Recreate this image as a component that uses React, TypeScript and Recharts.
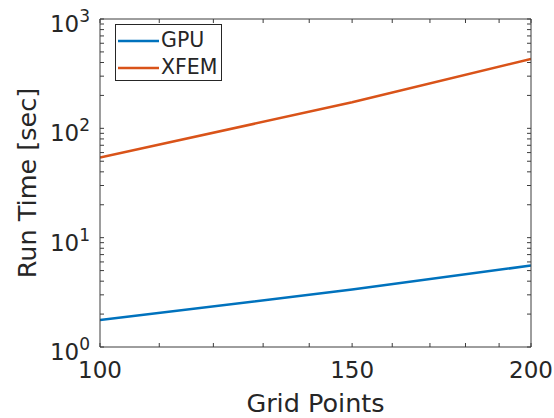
import React from 'react';
import { LineChart, Line, XAxis, YAxis } from 'recharts';

// grid sizes and measured run times (seconds)
const gridPoints = [100, 150, 200];
const gpuTime = [1.77, 3.35, 5.56];
const xfemTime = [54, 173, 432];

const xMajorTicks = [100, 150, 200];
const xMinorTicks = [110, 120, 130, 140, 160, 170, 180, 190];
const yMajorTicks = [1, 10, 100, 1000];

const series = [
  { key: 'gpu', name: 'GPU', color: '#0072BD' },
  { key: 'xfem', name: 'XFEM', color: '#D95319' },
];

const data = gridPoints.map((g, i) => ({ grid: g, gpu: gpuTime[i], xfem: xfemTime[i] }));

// log-decade minor ticks 1..9 for every decade
const yAllTicks: number[] = [];
for (let d = 0; d < 3; d++) {
  for (let m = 1; m < 10; m++) yAllTicks.push(m * Math.pow(10, d));
}
yAllTicks.push(1000);
const xAllTicks = [...xMajorTicks, ...xMinorTicks].sort((a, b) => a - b);

const FONT = '"DejaVu Sans", sans-serif';
const INK = '#262626';
const AXIS = '#3c3c3c';
const TICK_LEN = 4;

const BottomTick = (props: any) => {
  const { x, y, payload } = props;
  const major = xMajorTicks.includes(payload.value);
  return (
    <g>
      <line x1={x} x2={x} y1={y} y2={y - TICK_LEN} stroke={AXIS} />
      {major && (
        <text x={x} y={y + 31} textAnchor="middle" fontFamily={FONT} fontSize={23} fill={INK}>
          {payload.value}
        </text>
      )}
    </g>
  );
};

const TopTick = (props: any) => {
  const { x, y } = props;
  return <line x1={x} x2={x} y1={y} y2={y + TICK_LEN} stroke={AXIS} />;
};

const LeftTick = (props: any) => {
  const { x, y, payload } = props;
  const v = payload.value;
  const major = yMajorTicks.includes(v);
  const exp = Math.round(Math.log10(v));
  return (
    <g>
      <line x1={x} x2={x + TICK_LEN} y1={y} y2={y} stroke={AXIS} />
      {major && (
        <text x={x - 10} y={y + 13} textAnchor="end" fontFamily={FONT} fill={INK}>
          <tspan fontSize={23}>10</tspan>
          <tspan fontSize={17} dy={-10}>{exp}</tspan>
        </text>
      )}
    </g>
  );
};

const RightTick = (props: any) => {
  const { x, y } = props;
  return <line x1={x} x2={x - TICK_LEN} y1={y} y2={y} stroke={AXIS} />;
};

// legend box sitting over the upper-left corner of the plot
const LegendBox = () => (
  <div
    style={{
      position: 'absolute',
      left: 115,
      top: 24,
      width: 107,
      height: 57,
      boxSizing: 'border-box',
      border: `1px solid ${INK}`,
      background: '#fff',
      fontFamily: FONT,
      fontSize: 20.5,
      color: INK,
      paddingTop: 2,
    }}
  >
    {series.map((s) => (
      <div key={s.key} style={{ display: 'flex', alignItems: 'center', height: 27 }}>
        <svg width={45} height={10} style={{ flexShrink: 0 }}>
          <line x1={2} x2={43} y1={5} y2={5} stroke={s.color} strokeWidth={2.5} />
        </svg>
        <span style={{ lineHeight: '27px' }}>{s.name}</span>
      </div>
    ))}
  </div>
);

export default function App() {
  return (
    <div style={{ position: 'absolute', left: 0, top: 0, width: 554, height: 418, background: '#fff' }}>
      <LineChart width={554} height={418} data={data} margin={{ top: 18, right: 22, bottom: 0, left: 0 }}>
        <XAxis
          xAxisId="b"
          dataKey="grid"
          type="number"
          scale="log"
          domain={[100, 200]}
          allowDataOverflow
          ticks={xAllTicks}
          interval={0}
          height={71}
          tickSize={0}
          tickMargin={0}
          tickLine={false}
          axisLine={{ stroke: AXIS }}
          tick={<BottomTick />}
          label={{
            content: ({ viewBox }: any) => (
              <text
                x={viewBox.x + viewBox.width / 2}
                y={viewBox.y + 65}
                textAnchor="middle"
                fontFamily={FONT}
                fontSize={25.5}
                fill={INK}
              >
                Grid Points
              </text>
            ),
          }}
        />
        {/* 1px-thick top/right axes: they only carry the box edge and inward ticks */}
        <XAxis
          xAxisId="t"
          orientation="top"
          dataKey="grid"
          type="number"
          scale="log"
          domain={[100, 200]}
          allowDataOverflow
          ticks={xAllTicks}
          interval={0}
          height={1}
          tickSize={0}
          tickMargin={0}
          tickLine={false}
          axisLine={{ stroke: AXIS }}
          tick={<TopTick />}
        />
        <YAxis
          yAxisId="l"
          type="number"
          scale="log"
          domain={[1, 1000]}
          allowDataOverflow
          ticks={yAllTicks}
          interval={0}
          width={100}
          tickSize={0}
          tickMargin={0}
          tickLine={false}
          axisLine={{ stroke: AXIS }}
          tick={<LeftTick />}
          label={{
            content: ({ viewBox }: any) => {
              const cx = 36;
              const cy = viewBox.y + viewBox.height / 2;
              return (
                <text
                  x={cx}
                  y={cy}
                  transform={`rotate(-90 ${cx} ${cy})`}
                  textAnchor="middle"
                  fontFamily={FONT}
                  fontSize={25.5}
                  fill={INK}
                >
                  Run Time [sec]
                </text>
              );
            },
          }}
        />
        <YAxis
          yAxisId="r"
          orientation="right"
          type="number"
          scale="log"
          domain={[1, 1000]}
          allowDataOverflow
          ticks={yAllTicks}
          interval={0}
          width={1}
          tickSize={0}
          tickMargin={0}
          tickLine={false}
          axisLine={{ stroke: AXIS }}
          tick={<RightTick />}
        />
        {/* unstroked copy bound to the top/right axes so they take part in the layout */}
        <Line
          xAxisId="t"
          yAxisId="r"
          dataKey="gpu"
          stroke="none"
          dot={false}
          activeDot={false}
          legendType="none"
          isAnimationActive={false}
        />
        {series.map((s) => (
          <Line
            key={s.key}
            xAxisId="b"
            yAxisId="l"
            type="linear"
            dataKey={s.key}
            name={s.name}
            stroke={s.color}
            strokeWidth={2.5}
            dot={false}
            isAnimationActive={false}
          />
        ))}
      </LineChart>
      <LegendBox />
    </div>
  );
}
